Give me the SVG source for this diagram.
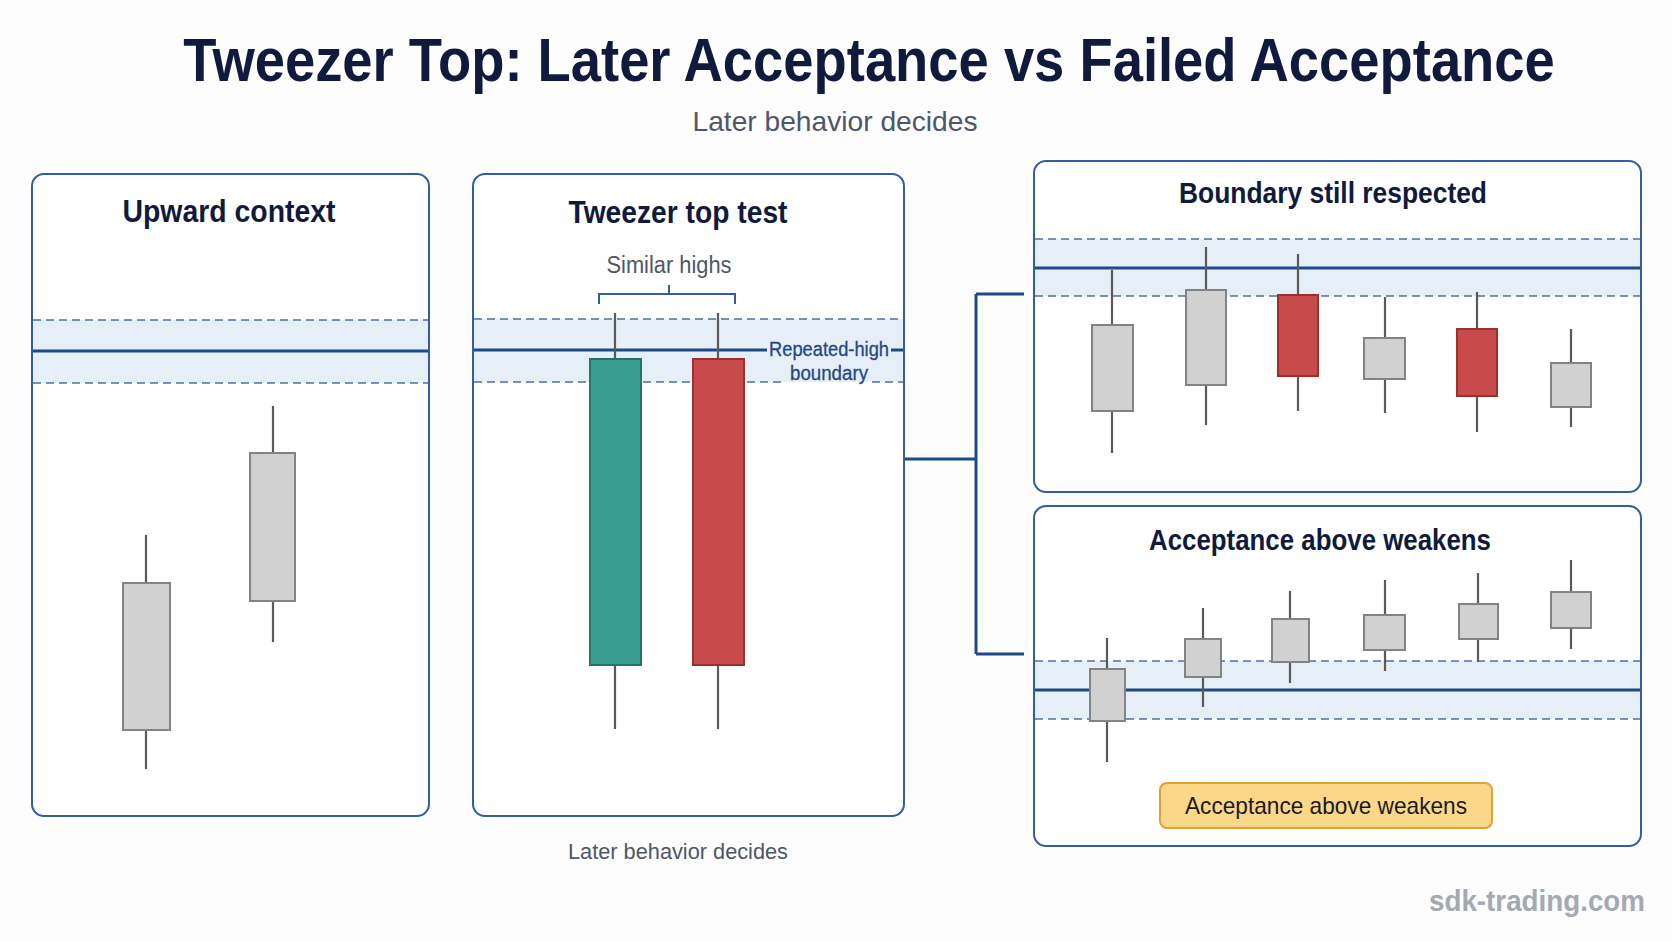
<svg xmlns="http://www.w3.org/2000/svg" width="1672" height="941" viewBox="0 0 1672 941">
<style>
.panel{fill:#ffffff;stroke:#2f5f9c;stroke-width:2}
.band{fill:#e6eef8}
.dash{stroke:#4d70a3;stroke-width:1.6;stroke-dasharray:8 5;fill:none}
.solid{stroke:#1f4a85;stroke-width:3;fill:none}
.wick{stroke:#5a5a5a;stroke-width:2.2}
.gray{fill:#d1d1d1;stroke:#838383;stroke-width:2}
.red{fill:#c94a4b;stroke:#9c2f30;stroke-width:2}
.green{fill:#3b9e90;stroke:#277366;stroke-width:2}
.ptitle{font-family:"Liberation Sans",Arial,sans-serif;font-weight:bold;fill:#0f1a3c;text-anchor:middle}
.note{font-family:"Liberation Sans",Arial,sans-serif;fill:#4f5668;text-anchor:middle}
.conn{stroke:#1f4a85;stroke-width:3;fill:none}
</style>
<rect x="0" y="0" width="1672" height="941" fill="#fdfdfe"/>
<g id="title">
<text transform="translate(869 81) scale(0.877 1)" x="0" y="0" class="ptitle" font-size="62">Tweezer Top: Later Acceptance vs Failed Acceptance</text>
<text x="835" y="131" class="note" font-size="28" textLength="285" lengthAdjust="spacingAndGlyphs">Later behavior decides</text>
</g>
<g id="connectors">
<path class="conn" d="M904 459 H976 M976 294 V654 M976 294 H1024 M976 654 H1024"/>
</g>
<g id="panel-upward">
<rect class="panel" x="32" y="174" width="397" height="642" rx="12"/>
<rect class="band" x="33" y="320" width="395" height="63"/>
<line class="dash" x1="33" y1="320" x2="428" y2="320"/>
<line class="dash" x1="33" y1="383" x2="428" y2="383"/>
<line class="solid" x1="33" y1="351" x2="428" y2="351"/>
<text x="229" y="222" class="ptitle" font-size="31" textLength="213" lengthAdjust="spacingAndGlyphs">Upward context</text>
<line class="wick" x1="146" y1="535" x2="146" y2="769"/>
<rect class="gray" x="123" y="583" width="47" height="147"/>
<line class="wick" x1="273" y1="406" x2="273" y2="642"/>
<rect class="gray" x="250" y="453" width="45" height="148"/>
</g>
<g id="panel-tweezer">
<rect class="panel" x="473" y="174" width="431" height="642" rx="12"/>
<rect class="band" x="474" y="319" width="429" height="63"/>
<line class="dash" x1="474" y1="319" x2="903" y2="319"/>
<path class="dash" d="M474 382 H786 M872 382 H903"/>
<path class="solid" d="M474 350 H767 M891 350 H903"/>
<text x="678" y="223" class="ptitle" font-size="31" textLength="219" lengthAdjust="spacingAndGlyphs">Tweezer top test</text>
<text x="669" y="273" class="note" font-size="23" textLength="125" lengthAdjust="spacingAndGlyphs">Similar highs</text>
<path d="M599 304 V294 H735 V304 M669 294 V285" stroke="#2f5f9c" stroke-width="2" fill="none"/>
<line class="wick" x1="615" y1="313" x2="615" y2="729"/>
<rect class="green" x="590" y="359" width="51" height="306"/>
<line class="wick" x1="718" y1="313" x2="718" y2="729"/>
<rect class="red" x="693" y="359" width="51" height="306"/>
<text x="829" y="356" font-family="Liberation Sans,Arial,sans-serif" font-size="20" fill="#1f4a85" stroke="#1f4a85" stroke-width="0.3" text-anchor="middle" textLength="120" lengthAdjust="spacingAndGlyphs">Repeated-high</text>
<text x="829" y="380" font-family="Liberation Sans,Arial,sans-serif" font-size="20" fill="#1f4a85" stroke="#1f4a85" stroke-width="0.3" text-anchor="middle" textLength="78" lengthAdjust="spacingAndGlyphs">boundary</text>
</g>
<g id="caption">
<text x="678" y="859" class="note" font-size="22" textLength="220" lengthAdjust="spacingAndGlyphs">Later behavior decides</text>
</g>
<g id="panel-respected">
<rect class="panel" x="1034" y="161" width="607" height="331" rx="12"/>
<rect class="band" x="1035" y="239" width="605" height="57"/>
<line class="dash" x1="1035" y1="239" x2="1640" y2="239"/>
<line class="dash" x1="1035" y1="296" x2="1640" y2="296"/>
<line class="solid" x1="1035" y1="268" x2="1640" y2="268"/>
<text x="1333" y="203" class="ptitle" font-size="30" textLength="308" lengthAdjust="spacingAndGlyphs">Boundary still respected</text>
<line class="wick" x1="1112" y1="270" x2="1112" y2="453"/>
<rect class="gray" x="1092" y="325" width="41" height="86"/>
<line class="wick" x1="1206" y1="247" x2="1206" y2="425"/>
<rect class="gray" x="1186" y="290" width="40" height="95"/>
<line class="wick" x1="1298" y1="254" x2="1298" y2="411"/>
<rect class="red" x="1278" y="295" width="40" height="81"/>
<line class="wick" x1="1385" y1="297" x2="1385" y2="413"/>
<rect class="gray" x="1364" y="338" width="41" height="41"/>
<line class="wick" x1="1477" y1="292" x2="1477" y2="432"/>
<rect class="red" x="1457" y="329" width="40" height="67"/>
<line class="wick" x1="1571" y1="329" x2="1571" y2="427"/>
<rect class="gray" x="1551" y="363" width="40" height="44"/>
</g>
<g id="panel-acceptance">
<rect class="panel" x="1034" y="506" width="607" height="340" rx="12"/>
<rect class="band" x="1035" y="661" width="605" height="58"/>
<line class="dash" x1="1035" y1="661" x2="1640" y2="661"/>
<line class="dash" x1="1035" y1="719" x2="1640" y2="719"/>
<line class="solid" x1="1035" y1="690" x2="1640" y2="690"/>
<text x="1320" y="550" class="ptitle" font-size="30" textLength="342" lengthAdjust="spacingAndGlyphs">Acceptance above weakens</text>
<line class="wick" x1="1107" y1="638" x2="1107" y2="762"/>
<rect class="gray" x="1090" y="669" width="35" height="52"/>
<line class="wick" x1="1203" y1="608" x2="1203" y2="707"/>
<rect class="gray" x="1185" y="639" width="36" height="38"/>
<line class="wick" x1="1290" y1="591" x2="1290" y2="683"/>
<rect class="gray" x="1272" y="619" width="37" height="43"/>
<line class="wick" x1="1385" y1="580" x2="1385" y2="671"/>
<rect class="gray" x="1364" y="615" width="41" height="35"/>
<line class="wick" x1="1478" y1="573" x2="1478" y2="662"/>
<rect class="gray" x="1459" y="604" width="39" height="35"/>
<line class="wick" x1="1571" y1="560" x2="1571" y2="649"/>
<rect class="gray" x="1551" y="592" width="40" height="36"/>
<rect x="1160" y="783" width="332" height="45" rx="7" fill="#fbd889" stroke="#e0a03a" stroke-width="2"/>
<text x="1326" y="814" font-family="Liberation Sans,Arial,sans-serif" font-size="24" fill="#1a1a1a" text-anchor="middle" textLength="282" lengthAdjust="spacingAndGlyphs">Acceptance above weakens</text>
</g>
<g id="watermark">
<text x="1537" y="911" font-family="Liberation Sans,Arial,sans-serif" font-size="29" font-weight="bold" fill="#a5a9b0" text-anchor="middle" textLength="216" lengthAdjust="spacingAndGlyphs">sdk-trading.com</text>
</g>
</svg>
